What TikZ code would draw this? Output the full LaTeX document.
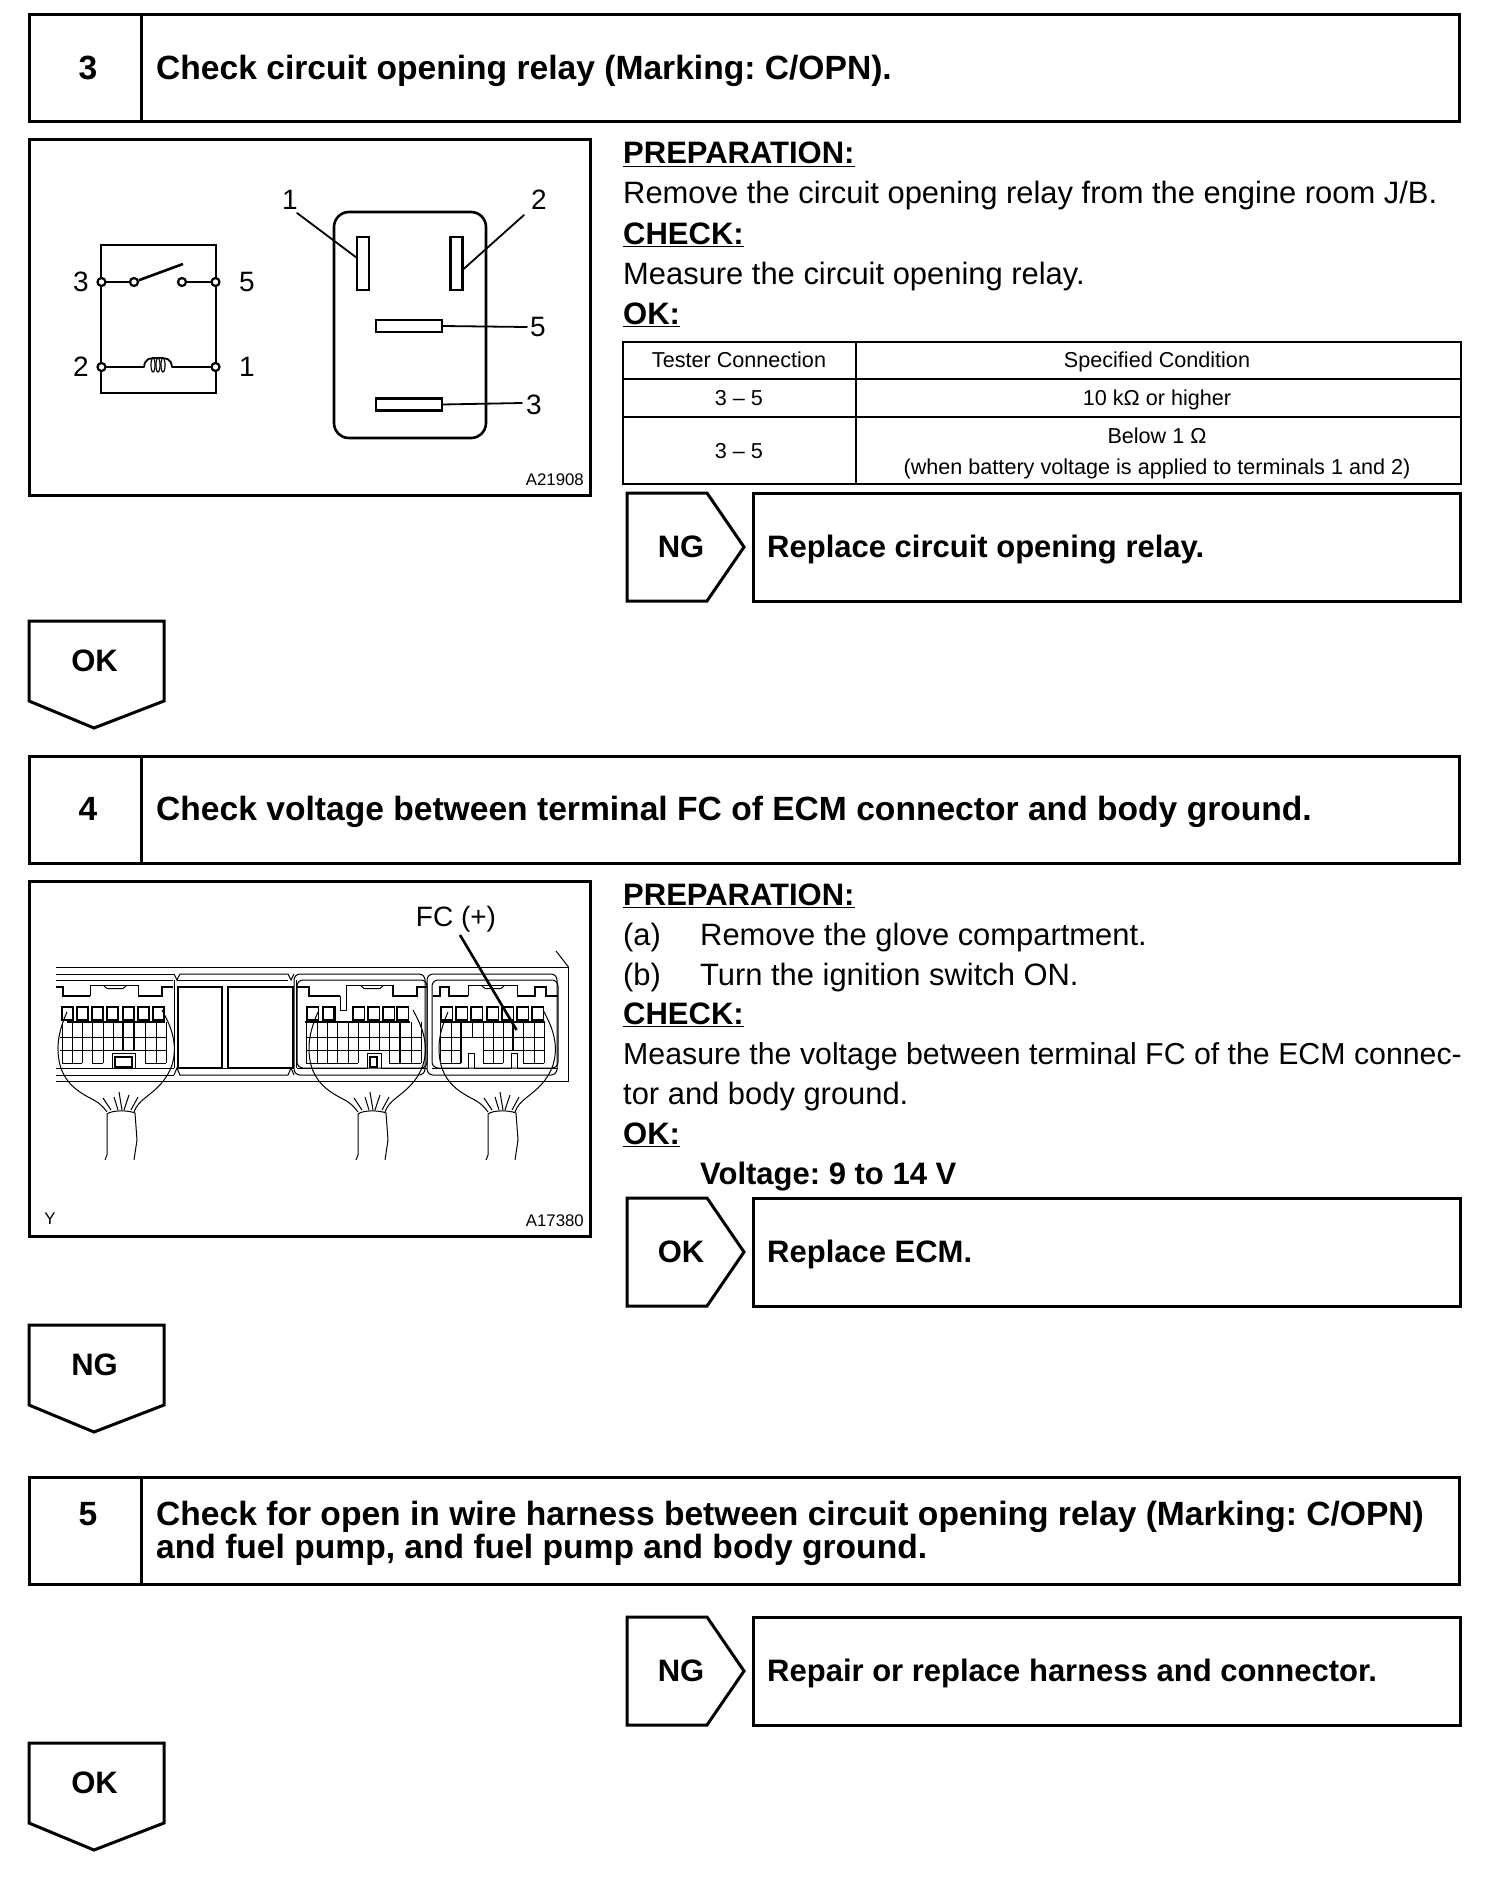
\documentclass[tikz,border=0pt]{standalone}
\usepackage{fontspec}
\setmainfont{Liberation Sans}
\frenchspacing
\usetikzlibrary{calc,positioning}

% sizes in reference pixels
\newcommand{\bodysize}{\fontsize{30.9}{33}\selectfont}
\newcommand{\labelsize}{\fontsize{28}{33}\selectfont}
\newcommand{\boldsize}{\fontsize{31}{33}\selectfont\bfseries}
\newcommand{\headsize}{\fontsize{33.6}{33}\selectfont\bfseries}
\newcommand{\tablesize}{\fontsize{21.6}{26}\selectfont}
\newcommand{\codesize}{\fontsize{16.8}{20}\selectfont}

\begin{document}
\begin{tikzpicture}[
  x=1pt,y=-1pt,
  box/.style={draw,line width=3pt,inner sep=0pt,outer sep=0pt,anchor=north west},
  outline/.style={line width=3pt,line join=miter},
  body/.style={font=\bodysize,inner sep=0pt,anchor=base west},
  lab/.style={font=\labelsize,inner sep=0pt},
  bodyhead/.style={font=\boldsize,inner sep=0pt,anchor=base west},
  headtext/.style={font=\headsize,inner sep=0pt,anchor=base west},
  cell/.style={font=\tablesize,inner sep=0pt,anchor=base},
  tag/.style={font=\boldsize,inner sep=0pt},
  code/.style={font=\codesize,inner sep=0pt},
  term/.style={circle,draw,fill=white,line width=2.2pt,minimum size=8pt,inner sep=0pt},
  pinbox/.style={draw,line width=2.6pt,inner sep=0pt,outer sep=0pt},
  wire/.style={line width=1.8pt,line cap=round},
  thick line/.style={line width=2.2pt},
  thin line/.style={line width=1pt},
]
\useasboundingbox (0,0) rectangle (1504,1894);

% ============================ step headers ============================
\foreach \y/\num/\txt in {15/3/{Check circuit opening relay (Marking: C/OPN).},
    756/4/{Check voltage between terminal FC of ECM connector and body ground.}}{
  \node[box,minimum width=112pt,minimum height=107pt] (num\num) at (29,\y) {};
  \node[headtext,anchor=base] (numtext\num) at (88,\y+64.5) {\num};
  \node[box,minimum width=1318pt,minimum height=107pt] (title\num) at (141,\y) {};
  \node[headtext] (text\num) at (156,\y+64.5) {\txt};
}
\node[box,minimum width=112pt,minimum height=107pt] (num5) at (29,1477) {};
\node[headtext,anchor=base] (numtext5) at (88,1525) {5};
\node[box,minimum width=1318pt,minimum height=107pt] (title5) at (141,1477) {};
\node[headtext] (text5a) at (156,1525) {Check for open in wire harness between circuit opening relay (Marking: C/OPN)};
\node[headtext] (text5b) at (156,1558) {and fuel pump, and fuel pump and body ground.};

% ============================ result boxes ============================
\foreach \y/\lab/\txt in {493/NG/{Replace circuit opening relay.},
    1198/OK/{Replace ECM.},1617/NG/{Repair or replace harness and connector.}}{
  \draw[outline] (627,\y) -- (707,\y) -- (744,\y+54) -- (707,\y+108) -- (627,\y+108) -- cycle;
  \node[tag] (lab\y) at (681,\y+54) {\lab};
  \node[box,minimum width=707pt,minimum height=108pt] (res\y) at (753,\y) {};
  \node[tag,anchor=base west] (restext\y) at (767,\y+64) {\txt};
}
% down pointers
\foreach \y/\lab in {621/OK,1325/NG,1743/OK}{
  \draw[outline] (29,\y) -- (164,\y) -- (164,\y+80) -- (94,\y+107) -- (29,\y+80) -- cycle;
  \node[tag] (down\y) at (94.5,\y+40) {\lab};
}

% ============================ relay picture ============================
\node[box,minimum width=561pt,minimum height=355pt] (relayframe) at (29,140) {};
\node[code,anchor=east] (relaycode) at (584,480) {A21908};

% schematic
\draw[line width=2.4pt] (101,245) rectangle (216,393);
\node[term] (t3) at (101.5,282) {};
\node[term] (t5) at (215.5,282) {};
\node[term] (swa) at (134,282) {};
\node[term] (swb) at (182,282) {};
\node[term] (t2) at (101.5,367) {};
\node[term] (t1) at (215.5,367) {};
\draw[wire] (t3) -- (swa);
\draw[wire] (swb) -- (t5);
\draw[line width=2.6pt] (swa) -- (183,264);
\coordinate (coila) at (144,367);
\coordinate (coilb) at (172,367);
\draw[wire] (t2) -- (coila);
\draw[wire] (coilb) -- (t1);
\draw[line width=1.8pt] (coila) .. controls (145,358) and (150,358) .. (158,358)
   .. controls (166,358) and (171,358) .. (coilb);
\foreach \x in {153,158,163}{ \draw[line width=1.2pt] (\x,365) ellipse (2 and 7); }
\node[lab] (l3) at (81,282) {3};
\node[lab] (l5) at (247,282) {5};
\node[lab] (l2) at (81,367) {2};
\node[lab] (l1) at (247,367) {1};

% relay body, seen from the terminals
\draw[line width=2.6pt,rounded corners=15pt] (334,212) rectangle (486,438);
\node[pinbox,minimum width=12pt,minimum height=53pt] (pin1) at (363,263.5) {};
\node[pinbox,minimum width=12pt,minimum height=53pt] (pin2) at (456.5,263.5) {};
\node[pinbox,minimum width=66pt,minimum height=12pt] (pin5) at (409,326) {};
\node[pinbox,minimum width=66pt,minimum height=12pt] (pin3) at (409,404.5) {};
\node[lab] (n1) at (290,200) {1};
\node[lab] (n2) at (539,200) {2};
\node[lab] (n5) at (538,327) {5};
\node[lab] (n3) at (534,405) {3};
\coordinate (e1) at (297,213);
\coordinate (e2) at (524,215);
\coordinate (e5) at (527,327);
\coordinate (e3) at (522,403);
\draw[wire] (e1) -- (pin1.west |- 0,258);
\draw[wire] (e2) -- (pin2.east |- 0,270);
\draw[wire] (pin5.east) -- (e5);
\draw[wire] (pin3.east) -- (e3);

% ============================ preparation texts, step 3 ============================
\node[bodyhead] (prep3) at (623,164) {\underline{PREPARATION:}};
\node[body] (rem3) at (623,204) {Remove the circuit opening relay from the engine room J/B.};
\node[bodyhead] (chk3) at (623,244) {\underline{CHECK:}};
\node[body] (mea3) at (623,284) {Measure the circuit opening relay.};
\node[bodyhead] (ok3) at (623,324) {\underline{OK:}};

% table
\draw[line width=2.8pt] (623,342) rectangle (1461,484);
\draw[line width=2.8pt] (623,379) -- (1461,379);
\draw[line width=2.8pt] (623,417) -- (1461,417);
\draw[line width=2.2pt] (856,342) -- (856,484);
\node[cell] (ca) at (739,367) {Tester Connection};
\node[cell] (cb) at (1157,367) {Specified Condition};
\node[cell] (cc) at (739,405) {3 – 5};
\node[cell] (cd) at (1157,405) {10 kΩ or higher};
\node[cell] (ce) at (739,458) {3 – 5};
\node[cell] (cf) at (1157,443) {Below 1 Ω};
\node[cell] (cg) at (1157,474) {(when battery voltage is applied to terminals 1 and 2)};

% ============================ ECM picture ============================
\node[box,minimum width=561pt,minimum height=355pt] (ecmframe) at (29,881.5) {};
\node[code,anchor=east] (ecmcode) at (584,1221) {A17380};
\node[code] (ecmy) at (50,1219) {Y};
\node[lab] (fclabel) at (456,919) {FC (+)};

% housing
\draw[thin line] (56,967) -- (568.5,967) -- (568.5,1081) -- (56,1081);
\draw[thin line] (556,951) -- (568.5,967);
\draw[thin line] (56,980) -- (173,980);
\draw[thin line] (56,974) -- (174,974);
\draw[thin line] (56,1075) -- (174,1075);
\draw[thin line] (56,1068) -- (174,1068);
\draw[thin line] (174,974) -- (177,980) -- (180,974) -- (288,974) -- (291,980) -- (294,974);
\draw[thin line] (177,980) -- (288,980);
\draw[thin line] (174,1075) -- (177,1068) -- (180,1075) -- (288,1075) -- (291,1068) -- (294,1075);
\draw[thin line] (177,1068) -- (288,1068);
% blank windows
\draw[line width=1.6pt] (178,987) rectangle (222,1068);
\draw[line width=1.6pt] (228,987) rectangle (293,1068);
\draw[thin line] (174,980) -- (174,1068);
\draw[thin line] (296,980) -- (296,1068);

% shell outlines, middle and right connector
\draw[thin line,rounded corners=6pt] (294,1075) -- (294,974) -- (425,974) -- (425,1075) -- cycle;
\draw[thin line,rounded corners=6pt] (297,1068) -- (297,980) -- (427,980) -- (427,1068) -- cycle;
\draw[thin line,rounded corners=6pt] (427,1075) -- (427,974) -- (557,974) -- (557,1075) -- cycle;
\draw[thin line,rounded corners=6pt] (432,1068) -- (432,980) -- (558,980) -- (558,1068) -- cycle;

% slots
\foreach \x in {62,77,92,107,123,138,153}{ \draw[line width=1.2pt] (\x,1007) rectangle ++(11,13); }
\foreach \x in {307,353,368,383,397}{ \draw[line width=1.2pt] (\x,1007) rectangle ++(11.5,13); }
\foreach \x in {441,456,471,487,502,517,532}{ \draw[line width=1.2pt] (\x,1007) rectangle ++(11.5,13); }
\draw[line width=2.2pt] (323,1007) rectangle ++(11.5,13);

% profiles along the top of each connector
\draw[thick line] (56,987) -- (63,987) -- (63,996) -- (90,996);
\draw[thin line] (90,996) -- (90,985) -- (138,985) -- (138,996);
\draw[thick line] (138,996) -- (162,996) -- (162,987) -- (173,987);
\draw[thick line] (297,987) -- (309,987) -- (309,996) -- (340,996);
\draw[thin line] (340,996) -- (340,1010) -- (346,1010) -- (346,985) -- (393,985);
\draw[thick line] (393,985) -- (393,996) -- (417,996) -- (417,987) -- (427,987);
\draw[thick line] (433,996) -- (440,996) -- (440,987) -- (449,987) -- (449,996) -- (468,996);
\draw[thin line] (468,996) -- (468,985) -- (517,985) -- (517,996);
\draw[thick line] (517,996) -- (535,996) -- (535,987) -- (546,987) -- (546,996) -- (558,996);
% latch clips
\foreach \x in {104,361,482}{ \draw[thin line] (\x,986) -- (\x+3,988.5) -- (\x+19,988.5) -- (\x+22,986); }

% thick bars over the cavity grids
\draw[thick line] (67,1022) -- (165,1022);
\draw[thick line] (305,1022) -- (410,1022);
\draw[thick line] (440,1022) -- (545,1022);

% cavity grids: left connector
\foreach \x/\yb in {62/1063,72/1063,82/1063,92/1063,103/1063,113/1050,123/1050,134/1050,145/1063,156/1063,166/1063}{
  \draw[thin line] (\x,1022) -- (\x,\yb); }
\foreach \xa/\xb/\y in {60/166/1037,60/166/1050,62/82/1063,92/103/1063,145/166/1063}{
  \draw[thin line] (\xa,\y) -- (\xb,\y); }
\foreach \x in {123,134}{ \draw[thick line] (\x,1022) -- (\x,1050); }
% middle connector
\foreach \x/\yb in {306/1063,317/1063,327/1063,337/1063,348/1063,358/1063,369/1050,379/1050,389/1063,400/1063,411/1063,421/1063}{
  \draw[thin line] (\x,1022) -- (\x,\yb); }
\foreach \xa/\xb/\y in {306/421/1037,306/421/1050,306/358/1063,389/421/1063}{
  \draw[thin line] (\xa,\y) -- (\xb,\y); }
\draw[thick line] (400,1022) -- (400,1063);
% right connector
\foreach \x/\yb in {440/1063,451/1063,472/1037,483/1063,493/1063,503/1063,523/1063,534/1063,544/1063}{
  \draw[thin line] (\x,1022) -- (\x,\yb); }
\foreach \xa/\xb/\y in {440/545/1037,440/461/1050,483/545/1050,440/461/1063,483/503/1063,523/544/1063}{
  \draw[thin line] (\xa,\y) -- (\xb,\y); }
\draw[thick line] (461,1022) -- (461,1063);
\draw[thick line] (513,1022) -- (513,1050);

% lower profiles with the latch bumps
\draw[thin line] (56,1068) -- (112,1068) -- (112,1053) -- (135,1053) -- (135,1068) -- (173,1068);
\draw[thick line] (115,1057) rectangle (132,1067);
\draw[thin line] (297,1068) -- (367,1068) -- (367,1053) -- (381,1053) -- (381,1068) -- (427,1068);
\draw[thick line] (370,1057) rectangle (377,1067);
\draw[thin line] (432,1068) -- (468,1068) -- (468,1053) -- (474,1053) -- (474,1068) -- (511,1068) -- (511,1053) -- (517,1053) -- (517,1068) -- (558,1068);

% harness looms
\foreach \dx in {0,251,381}{
\begin{scope}[xshift=\dx pt]
  \draw[thin line] (67,1012) .. controls (60,1028) and (55,1045) .. (60,1065)
     .. controls (65,1082) and (75,1090) .. (90,1098) .. controls (98,1102) and (103,1106) .. (107,1112);
  \draw[thin line] (162,1010) .. controls (172,1028) and (178,1045) .. (172,1065)
     .. controls (166,1082) and (155,1090) .. (145,1098) .. controls (140,1102) and (136,1106) .. (134,1112);
  \draw[thin line] (107,1114) .. controls (112,1110) and (128,1110) .. (135,1113);
  \draw[thin line] (107,1114) -- (107,1155) -- (105,1160);
  \draw[thin line] (135,1113) -- (137,1140) -- (134,1160);
  \foreach \xa/\xb/\ya in {111/103/1098,118/114/1097,122/119/1092,124/129/1095,131/138/1097}{
    \draw[thin line] (\xa,1110) -- (\xb,\ya);
  }
\end{scope}
}

% leader to terminal FC
\coordinate (fctip) at (516.6,1030);
\coordinate (fctail) at (460,935);
\draw[line width=2.6pt] (fctail) -- (fctip);

% ============================ preparation texts, step 4 ============================
\node[bodyhead] (prep4) at (623,905) {\underline{PREPARATION:}};
\node[body] (a4) at (623,945) {(a)};
\node[body] (ra4) at (700,945) {Remove the glove compartment.};
\node[body] (b4) at (623,985) {(b)};
\node[body] (rb4) at (700,985) {Turn the ignition switch ON.};
\node[bodyhead] (chk4) at (623,1024) {\underline{CHECK:}};
\node[body,font=\fontsize{30.3}{33}\selectfont] (mea4) at (623,1064) {Measure the voltage between terminal FC of the ECM connec-};
\node[body] (tor4) at (623,1104) {tor and body ground.};
\node[bodyhead] (ok4) at (623,1144) {\underline{OK:}};
\node[bodyhead] (volt4) at (700,1184) {Voltage: 9 to 14 V};

\end{tikzpicture}
\end{document}
